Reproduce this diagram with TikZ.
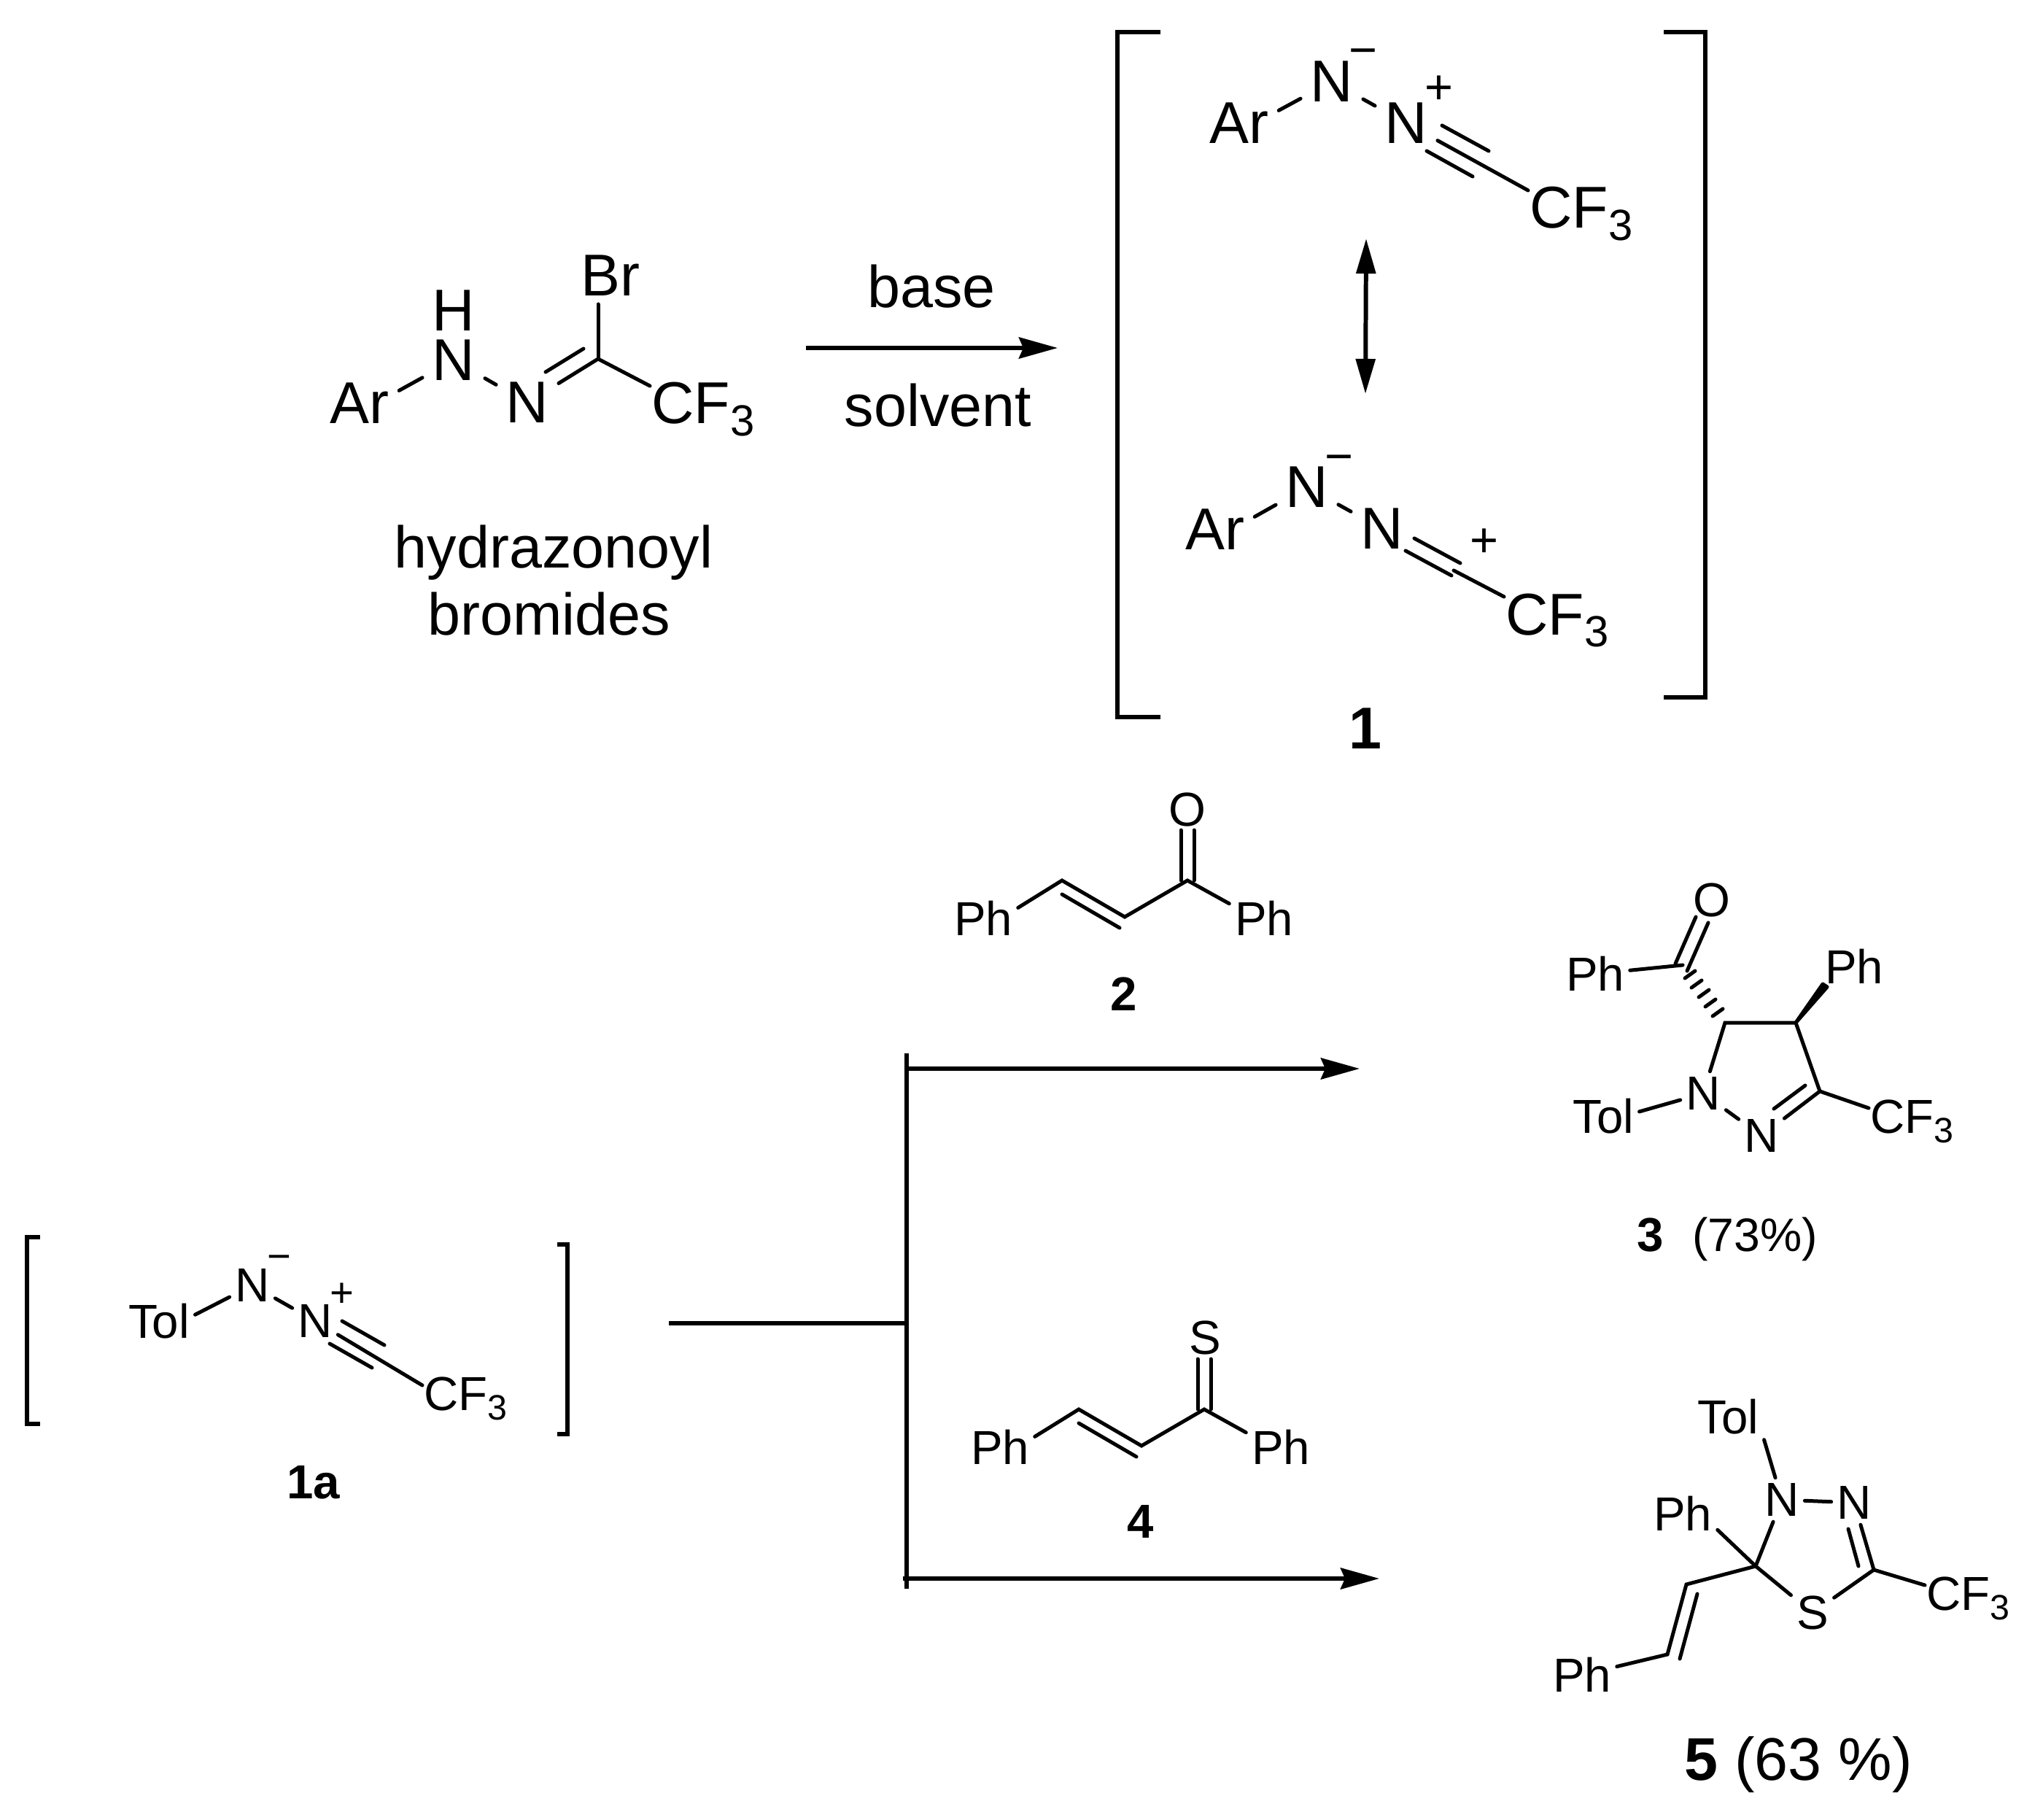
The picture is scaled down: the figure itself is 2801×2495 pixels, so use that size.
\documentclass[tikz,border=0pt]{standalone}
\usepackage{fontspec}
\setmainfont{Liberation Sans}
\usetikzlibrary{arrows.meta}

\newcommand{\cfsub}{CF\raisebox{-.21em}{\scalebox{.74}{3}}}

\tikzset{
	atom/.style={inner sep=3.7pt,font=\fontsize{23}{26}\selectfont},
	atomsm/.style={inner sep=2pt,font=\fontsize{18.6}{22}\selectfont},
	cfgroup/.style={inner sep=.5pt,anchor=base west,font=\fontsize{23}{26}\selectfont},
	cfgroupsm/.style={inner sep=.5pt,anchor=base west,font=\fontsize{18.6}{22}\selectfont},
	lbl/.style={inner sep=0pt,anchor=base,font=\fontsize{23}{26}\selectfont},
	lblsm/.style={inner sep=0pt,anchor=base,font=\fontsize{18.3}{22}\selectfont},
	lblbold/.style={inner sep=0pt,anchor=base,font=\fontsize{18.6}{22}\selectfont\bfseries},
	charge/.style={inner sep=0pt,anchor=base,font=\fontsize{19}{22}\selectfont},
	chargesm/.style={inner sep=0pt,anchor=base,font=\fontsize{16}{18}\selectfont},
	bond/.style={line width=1.42pt,line cap=round},
	rxn/.style={line width=1.7pt},
	rxnhead/.style={rxn,-{Stealth[length=.53cm,width=.29cm,inset=.06cm]}},
	bracket/.style={line width=1.7pt},
}

\begin{document}
\begin{tikzpicture}[x=0.01cm,y=-0.01cm]
	\useasboundingbox (0,0) rectangle (2801,2495);

	% hydrazonoyl bromide
	\node[atom] (ara) at (493,553) {Ar};
	\node[atom,inner ysep=0pt] (na) at (622,494) {N};
	\node[atom,inner sep=0pt] (ha) at (622,426) {H};
	\node[atom] (nb) at (723,552) {N};
	\node[atom] (bra) at (837,378) {Br};
	\node[cfgroup] (cfa) at (891,581) {\cfsub};
	\coordinate (ca) at (820,492);
	\coordinate (dbla) at (748,510);
	\coordinate (dblb) at (800,478);
	\coordinate (brend) at (820,417);
	\draw[bond] (ara.18) -- (na);
	\draw[bond] (na) -- (nb);
	\draw[bond] (nb) -- (ca);
	\draw[bond] (dbla) -- (dblb);
	\draw[bond] (ca) -- (brend);
	\draw[bond] (ca) -- (cfa.156);
	\node[lbl] (hydra) at (759,779) {hydrazonoyl};
	\node[lbl] (hydrb) at (753,871) {bromides};

	% base / solvent arrow
	\coordinate (arra) at (1105,477);
	\coordinate (arrb) at (1450,477);
	\draw[rxnhead] (arra) -- (arrb);
	\node[lbl] (basea) at (1277,422) {base};
	\node[lbl] (solva) at (1286,585) {solvent};

	% nitrile imine 1
	\draw[bracket] (1591,44) -- (1532,44) -- (1532,983) -- (1591,983);
	\draw[bracket] (2281,44) -- (2338,44) -- (2338,956) -- (2281,956);

	\node[atom] (arb) at (1699,169) {Ar};
	\node[atom] (nc) at (1826,112) {N};
	\node[atom] (nd) at (1928,169) {N};
	\node[charge] (mina) at (1869,92) {−};
	\node[charge] (plusa) at (1973,143) {+};
	\node[cfgroup] (cfb) at (2095,313) {\cfsub};
	\coordinate (tra) at (1977,172);
	\coordinate (trb) at (2041,207);
	\coordinate (trc) at (1956,207);
	\coordinate (trd) at (2019,242);
	\draw[bond] (arb.18) -- (nc);
	\draw[bond] (nc) -- (nd);
	\draw[bond] (nd) -- (cfb.156);
	\draw[bond] (tra) -- (trb);
	\draw[bond] (trc) -- (trd);

	\coordinate (resa) at (1873,327);
	\coordinate (resb) at (1872,540);
	\draw[rxn,{Stealth[length=.48cm,width=.26cm,inset=0pt]}-{Stealth[length=.48cm,width=.26cm,inset=0pt]}] (resa) -- (resb);

	\node[atom] (arc) at (1666,726) {Ar};
	\node[atom] (ne) at (1792,668) {N};
	\node[atom] (nf) at (1895,725) {N};
	\node[charge] (minb) at (1836,649) {−};
	\node[charge] (plusb) at (2035,764) {+};
	\node[cfgroup] (cfc) at (2062,870) {\cfsub};
	\coordinate (dbc) at (1939,738);
	\coordinate (dbd) at (2002,772);
	\coordinate (dbe) at (1927,755);
	\coordinate (dbf) at (1990,789);
	\coordinate (dbg) at (1993,782);
	\draw[bond] (arc.18) -- (ne);
	\draw[bond] (ne) -- (nf);
	\draw[bond] (dbg) -- (cfc.156);
	\draw[bond] (dbc) -- (dbd);
	\draw[bond] (dbe) -- (dbf);
	\node[lbl,font=\fontsize{23}{26}\selectfont\bfseries] (onelbl) at (1872,1026) {1};

	% nitrile imine 1a
	\draw[bracket] (55,1696) -- (37,1696) -- (37,1952) -- (55,1952);
	\draw[bracket] (764,1706) -- (778,1706) -- (778,1966) -- (764,1966);
	\node[atomsm] (tola) at (218,1811) {Tol};
	\node[atomsm] (ng) at (346,1762) {N};
	\node[atomsm] (nh) at (432,1811) {N};
	\node[chargesm] (minc) at (383,1741) {−};
	\node[chargesm] (plusc) at (469,1791) {+};
	\node[cfgroupsm] (cfd) at (579,1933) {\cfsub};
	\coordinate (tre) at (469,1811);
	\coordinate (trf) at (527,1844);
	\coordinate (trg) at (452,1842);
	\coordinate (trh) at (510,1875);
	\draw[bond] (tola.10) -- (ng);
	\draw[bond] (ng) -- (nh);
	\draw[bond] (nh) -- (cfd.163);
	\draw[bond] (tre) -- (trf);
	\draw[bond] (trg) -- (trh);
	\node[lblbold] (onealbl) at (430,2054) {1a};

	% branching arrows
	\coordinate (rxnl) at (917,1814);
	\coordinate (rxnj) at (1243,1814);
	\coordinate (rxnt) at (1243,1444);
	\coordinate (rxnb) at (1243,2178);
	\coordinate (rxnu) at (1243,1465);
	\coordinate (rxnd) at (1238,2164);
	\coordinate (rxnue) at (1864,1465);
	\coordinate (rxnde) at (1891,2164);
	\draw[rxn] (rxnl) -- (rxnj);
	\draw[rxn] (rxnt) -- (rxnb);
	\draw[rxnhead] (rxnu) -- (rxnue);
	\draw[rxnhead] (rxnd) -- (rxnde);

	% chalcone 2
	\node[atomsm] (oa) at (1628,1110) {O};
	\node[atomsm] (pha) at (1348,1259) {Ph};
	\node[atomsm] (phb) at (1733,1259) {Ph};
	\coordinate (cb) at (1456,1207);
	\coordinate (cc) at (1542,1257);
	\coordinate (cd) at (1628,1207);
	\coordinate (ce) at (1456,1226);
	\coordinate (cef) at (1535,1272);
	\coordinate (oda) at (1619,1138);
	\coordinate (odb) at (1619,1207);
	\coordinate (odc) at (1637,1138);
	\coordinate (odd) at (1637,1207);
	\draw[bond] (pha.17) -- (cb) -- (cc) -- (cd) -- (phb.157);
	\draw[bond] (ce) -- (cef);
	\draw[bond] (oda) -- (odb);
	\draw[bond] (odc) -- (odd);
	\node[lblbold] (twolbl) at (1541,1385) {2};

	% pyrazoline 3
	\node[atomsm] (ob) at (2347,1234) {O};
	\node[atomsm] (phc) at (2187,1335) {Ph};
	\node[atomsm] (phd) at (2542,1325) {Ph};
	\node[atomsm] (tolb) at (2198,1530) {Tol};
	\node[atomsm] (ni) at (2335,1499) {N};
	\node[atomsm] (nj) at (2415,1557) {N};
	\node[cfgroupsm] (cfe) at (2562,1553) {\cfsub};
	\coordinate (cg) at (2307,1323);
	\coordinate (ch) at (2365,1402);
	\coordinate (ci) at (2462,1402);
	\coordinate (cj) at (2495,1496);
	\coordinate (oea) at (2325,1257);
	\coordinate (oeb) at (2297,1321);
	\coordinate (oec) at (2342,1265);
	\coordinate (oed) at (2313,1331);
	\coordinate (cka) at (2475,1488);
	\coordinate (ckb) at (2432,1520);
	\coordinate (wda) at (2499,1349);
	\coordinate (wdb) at (2505,1353);
	\draw[bond] (phc) -- (cg);
	\draw[bond] (oea) -- (oeb);
	\draw[bond] (oec) -- (oed);
	\draw[bond] (ni) -- (ch) -- (ci) -- (cj) -- (nj);
	\draw[bond] (ni) -- (nj);
	\draw[bond] (tolb.7) -- (ni);
	\draw[bond] (cka) -- (ckb);
	\draw[bond] (cj) -- (cfe.163);
	\filldraw[bond,line join=round] (ci) -- (wda) -- (wdb) -- cycle;
	\foreach \hx/\hy in {2317/1336,2326/1349,2336/1362,2345/1375,2355/1388}
		\draw[bond] (\hx+7,\hy-5) -- (\hx-7,\hy+5);
	\node[lblbold] (threelbl) at (2263,1715) {3};
	\node[lblsm] (yielda) at (2406,1715) {(73\%)};

	% thiochalcone 4
	\node[atomsm] (sa) at (1652,1834) {S};
	\node[atomsm] (phe) at (1371,1984) {Ph};
	\node[atomsm] (phf) at (1756,1984) {Ph};
	\coordinate (cl) at (1479,1932);
	\coordinate (cm) at (1565,1982);
	\coordinate (cn) at (1651,1932);
	\coordinate (co) at (1479,1951);
	\coordinate (cp) at (1558,1997);
	\coordinate (sda) at (1642,1863);
	\coordinate (sdb) at (1642,1932);
	\coordinate (sdc) at (1660,1863);
	\coordinate (sdd) at (1660,1932);
	\draw[bond] (phe.17) -- (cl) -- (cm) -- (cn) -- (phf.157);
	\draw[bond] (co) -- (cp);
	\draw[bond] (sda) -- (sdb);
	\draw[bond] (sdc) -- (sdd);
	\node[lblbold] (fourlbl) at (1564,2108) {4};

	% thiadiazoline 5
	\node[atomsm] (tolc) at (2369,1942) {Tol};
	\node[atomsm] (nk) at (2443,2056) {N};
	\node[atomsm] (nl) at (2542,2060) {N};
	\node[atomsm] (phg) at (2307,2075) {Ph};
	\node[atomsm] (sb) at (2485,2211) {S};
	\node[atomsm] (phh) at (2169,2296) {Ph};
	\node[cfgroupsm] (cff) at (2639,2207) {\cfsub};
	\coordinate (cq) at (2407,2147);
	\coordinate (cr) at (2312,2172);
	\coordinate (cs) at (2286,2268);
	\coordinate (ct) at (2569,2152);
	\coordinate (cua) at (2327,2185);
	\coordinate (cub) at (2303,2274);
	\coordinate (cva) at (2548,2147);
	\coordinate (cvb) at (2534,2096);
	\draw[bond] (tolc.south east) -- (nk);
	\draw[bond] (nk) -- (nl);
	\draw[bond] (phg.-25) -- (cq);
	\draw[bond] (nk) -- (cq) -- (sb) -- (ct) -- (nl);
	\draw[bond] (cq) -- (cr) -- (cs) -- (phh);
	\draw[bond] (cua) -- (cub);
	\draw[bond] (cva) -- (cvb);
	\draw[bond] (ct) -- (cff.163);
	\node[lbl,font=\fontsize{23.5}{26}\selectfont\bfseries] (fivelbl) at (2332,2440) {5};
	\node[lbl,font=\fontsize{23.5}{26}\selectfont] (yieldb) at (2500,2440) {(63 \%)};
\end{tikzpicture}
\end{document}
